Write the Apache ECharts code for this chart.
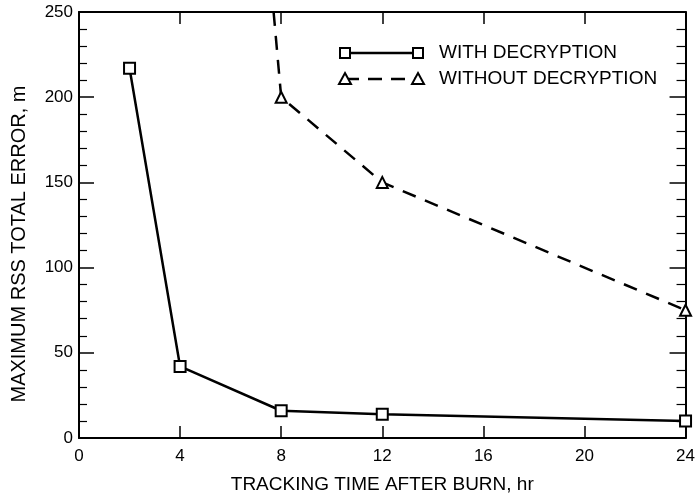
<!DOCTYPE html>
<html>
<head>
<meta charset="utf-8">
<script src="https://cdn.jsdelivr.net/npm/echarts@6/dist/echarts.min.js"></script>
<style>
    html,body{margin:0;padding:0;background:#fff;}
    #chart{width:698px;height:499px;}
</style>
</head>
<body>
<div id="chart"></div>
<script>
    // data
    var withX = [2, 4, 8, 12, 24];
    var withY = [217, 42, 16, 14, 10];
    var withoutX = [7.7, 8, 12, 24];
    var withoutY = [250, 200, 150, 75];
    var xTicks = [0, 4, 8, 12, 16, 20, 24];

    var font = '"Liberation Sans", Arial, sans-serif';
    var chart = echarts.init(document.getElementById('chart'));

    function pairs(xs, ys) {
        return xs.map(function (x, i) { return [x, ys[i]]; });
    }
    var withoutData = pairs(withoutX, withoutY);
    // first point is where the curve leaves the top of the frame: no marker
    withoutData[0] = {value: withoutData[0], symbol: 'none'};

    // onZero off, otherwise the top/right axes get pulled onto the zero line
    var axisLine = {show: true, onZero: false, lineStyle: {color: '#000', width: 2}};
    var markStyle = {fill: '#fff', stroke: '#000', lineWidth: 2};
    function ticks(len) {
        return {show: true, inside: true, length: len, lineStyle: {color: '#000', width: 1.5}};
    }
    function minor(len) {
        return {show: true, splitNumber: 5, length: len, lineStyle: {color: '#000', width: 1.2}};
    }

    // hand drawn legend: symbol - line - symbol, then label
    function legendRow(y, shape, dashed, label) {
        var sym = function (x) {
            if (shape === 'rect') {
                return {type: 'rect', shape: {x: x - 5, y: y - 5, width: 10, height: 10}, style: markStyle, z: 101};
            }
            return {type: 'polygon', shape: {points: [[x, y - 6], [x + 6, y + 5], [x - 6, y + 5]]}, style: markStyle, z: 101};
        };
        return [
            {type: 'line', shape: {x1: 345, y1: y, x2: 418, y2: y},
                style: {stroke: '#000', lineWidth: 2.5, lineDash: dashed ? [14, 9] : null}, z: 100},
            sym(345), sym(418),
            {type: 'text', x: 439, y: y, style: {text: label, font: '19px ' + font, fill: '#000', textVerticalAlign: 'middle'}, z: 100}
        ];
    }

    var option = {
        animation: false,
        grid: {left: 79, right: 12, top: 12, bottom: 59},
        graphic: legendRow(53, 'rect', false, 'WITH DECRYPTION')
            .concat(legendRow(79, 'triangle', true, 'WITHOUT DECRYPTION')),
        xAxis: [{
            type: 'value', min: 0, max: 24, interval: 4,
            name: 'TRACKING TIME AFTER BURN, hr', nameLocation: 'middle', nameGap: 37,
            nameTextStyle: {fontFamily: font, fontSize: 19, color: '#000'},
            axisLine: axisLine,
            axisTick: ticks(12),
            axisLabel: {fontFamily: font, fontSize: 17, color: '#000', margin: 10,
                formatter: function (v) { return xTicks.indexOf(v) >= 0 ? String(v) : ''; }},
            splitLine: {show: false}
        }, {
            type: 'value', min: 0, max: 24, interval: 4, position: 'top',
            axisLine: axisLine,
            axisTick: ticks(12),
            axisLabel: {show: false},
            splitLine: {show: false}
        }],
        yAxis: [{
            type: 'value', min: 0, max: 250, interval: 50,
            name: 'MAXIMUM RSS TOTAL ERROR, m', nameLocation: 'middle', nameGap: 50,
            nameTextStyle: {fontFamily: font, fontSize: 20, color: '#000', padding: [0, 38, 0, 0]},
            axisLine: axisLine,
            axisTick: ticks(15),
            minorTick: minor(8),
            axisLabel: {fontFamily: font, fontSize: 17, color: '#000', margin: 6},
            splitLine: {show: false}
        }, {
            type: 'value', min: 0, max: 250, interval: 50, position: 'right',
            axisLine: axisLine,
            axisTick: ticks(16),
            minorTick: minor(9),
            axisLabel: {show: false},
            splitLine: {show: false}
        }],
        series: [{
            name: 'WITH DECRYPTION',
            type: 'line',
            data: pairs(withX, withY),
            symbol: 'rect', symbolSize: 11,
            itemStyle: {color: '#fff', borderColor: '#000', borderWidth: 2},
            lineStyle: {color: '#000', width: 2.5},
            clip: true
        }, {
            name: 'WITHOUT DECRYPTION',
            type: 'line',
            data: withoutData,
            symbol: 'triangle', symbolSize: 11,
            itemStyle: {color: '#fff', borderColor: '#000', borderWidth: 2},
            lineStyle: {color: '#000', width: 2.5, type: [14, 10]},
            clip: true
        }]
    };
    chart.setOption(option);
</script>
</body>
</html>
